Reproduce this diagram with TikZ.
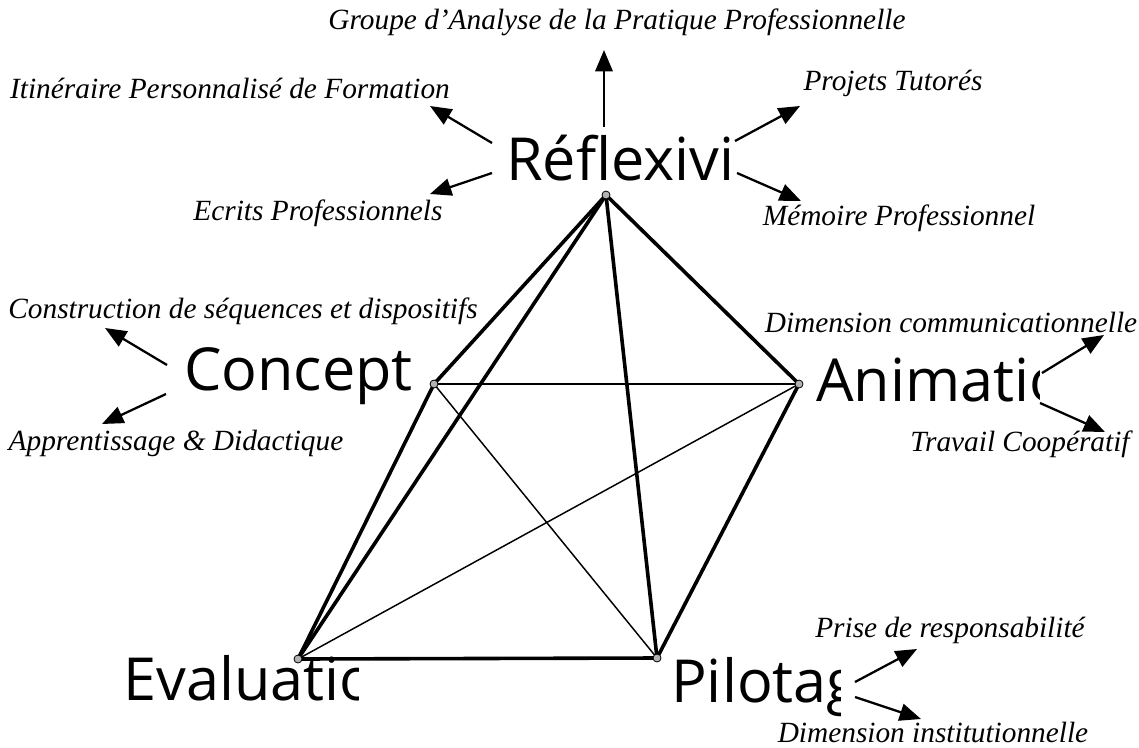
\documentclass[tikz,border=0pt]{standalone}
\usepackage{fontspec}
\setmainfont{Liberation Serif}
\newfontfamily\bigsans{Open Sans}
\usetikzlibrary{arrows.meta}
\tikzset{
  big/.style={font=\bigsans\fontsize{44.5}{50}\selectfont, inner sep=0pt, anchor=base west},
  lab/.style={font=\itshape\fontsize{22}{25}\selectfont, inner sep=0pt},
  vtx/.style={circle, draw=black, fill=gray!60, line width=0.6pt, minimum size=6pt, inner sep=0pt},
  thickedge/.style={line width=2.7pt},
  thinedge/.style={line width=1.1pt},
  arr/.style={line width=1.7pt, -{Triangle[length=16pt,width=13pt]}},
}
\begin{document}
\begin{tikzpicture}[x=0.75pt,y=-0.75pt]
\useasboundingbox (0,0) rectangle (1139,747);
% vertices
\coordinate (R) at (606,195);
\coordinate (C) at (434,384);
\coordinate (A) at (799,384);
\coordinate (E) at (298,659);
\coordinate (P) at (657,658);
% edges
\draw[thinedge] (C) -- (A);
\draw[thinedge] (C) -- (P);
\draw[thinedge] (A) -- (E);
\draw[thickedge] (R) -- (C);
\draw[thickedge] (R) -- (E);
\draw[thickedge] (R) -- (P);
\draw[thickedge] (R) -- (A);
\draw[thickedge] (C) -- (E);
\draw[thickedge] (A) -- (P);
\draw[thickedge] (E) -- (P);
\node[vtx] (vR) at (R) {};
\node[vtx] (vC) at (C) {};
\node[vtx] (vA) at (A) {};
\node[vtx] (vE) at (E) {};
\node[vtx] (vP) at (P) {};
% big labels
\node[big] (tR) at (506,180) {Réflexivi};
\node[big] (tC) at (184,390) {Concept};
\begin{scope}
\clip (800,330) rectangle (1039,420);
\node[big] (tA) at (816,401) {Animatio};
\end{scope}
\begin{scope}
\clip (100,640) rectangle (358,720);
\node[big, anchor=base east] (tE) at (376,700) {Evaluatio};
\end{scope}
\begin{scope}
\clip (660,640) rectangle (840,730);
\node[big] (tP) at (671,702) {Pilotage};
\end{scope}
% italic labels
\node[lab] (gapp) at (617,22) {Groupe d’Analyse de la Pratique Professionnelle};
\node[lab] (ipf) at (230,88) {Itinéraire Personnalisé de Formation};
\node[lab] (pt) at (893,83) {Projets Tutorés};
\node[lab] (ep) at (318,213) {Ecrits Professionnels};
\node[lab] (mp) at (899,218) {Mémoire Professionnel};
\node[lab] (csd) at (243,311) {Construction de séquences et dispositifs};
\node[lab] (dc) at (951,322) {Dimension communicationnelle};
\node[lab] (ad) at (176,443) {Apprentissage \& Didactique};
\node[lab] (tc) at (1020,444) {Travail Coopératif};
\node[lab] (pr) at (950,630) {Prise de responsabilité};
\node[lab] (di) at (933,732) {Dimension institutionnelle};
% arrow anchors
\coordinate (a1s) at (604,127); \coordinate (a1e) at (604,50);
\coordinate (a2s) at (492,143); \coordinate (a2e) at (430,106);
\coordinate (a3s) at (492,173); \coordinate (a3e) at (430,194);
\coordinate (a4s) at (735,141); \coordinate (a4e) at (800,106);
\coordinate (a5s) at (737,173); \coordinate (a5e) at (801,201);
\coordinate (a6s) at (167,365); \coordinate (a6e) at (105,328);
\coordinate (a7s) at (166,394); \coordinate (a7e) at (102,424);
\coordinate (a8s) at (1042,373); \coordinate (a8e) at (1104,335);
\coordinate (a9s) at (1040,403); \coordinate (a9e) at (1105,432);
\coordinate (a10s) at (855,682); \coordinate (a10e) at (917,649);
\coordinate (a11s) at (855,697); \coordinate (a11e) at (921,719);
\draw[arr] (a1s) -- (a1e);
\draw[arr] (a2s) -- (a2e);
\draw[arr] (a3s) -- (a3e);
\draw[arr] (a4s) -- (a4e);
\draw[arr] (a5s) -- (a5e);
\draw[arr] (a6s) -- (a6e);
\draw[arr] (a7s) -- (a7e);
\draw[arr] (a8s) -- (a8e);
\draw[arr] (a9s) -- (a9e);
\draw[arr] (a10s) -- (a10e);
\draw[arr] (a11s) -- (a11e);
\end{tikzpicture}
\end{document}
